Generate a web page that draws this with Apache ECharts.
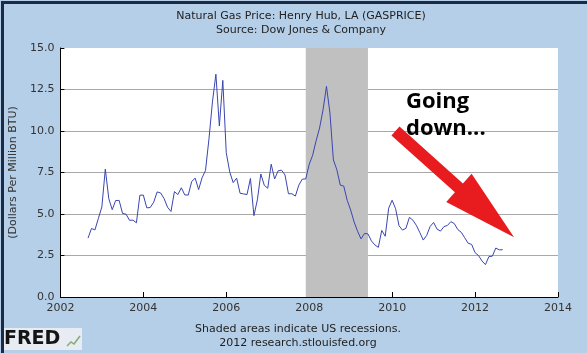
<!DOCTYPE html>
<html>
<head>
<meta charset="utf-8">
<script src="https://cdn.jsdelivr.net/npm/echarts@6/dist/echarts.min.js"></script>
<style>
 html, body { margin: 0; padding: 0; }
 #chart { width: 587px; height: 353px; }
</style>
</head>
<body>
<div id="chart"></div>
<script>
// monthly Henry Hub price, starting Sep 2002
var startYear = 2002, startMonth = 9;
var prices = [
 3.55, 4.13, 4.04, 4.74,
 5.43, 7.71, 5.93, 5.26, 5.81, 5.82, 5.03, 4.99, 4.62, 4.63, 4.47, 6.13,
 6.14, 5.37, 5.39, 5.71, 6.33, 6.27, 5.93, 5.41, 5.15, 6.35, 6.17, 6.58,
 6.15, 6.14, 6.96, 7.16, 6.47, 7.18, 7.63, 9.53, 11.75, 13.42, 10.30, 13.05,
 8.69, 7.54, 6.89, 7.16, 6.25, 6.21, 6.17, 7.14, 4.90, 5.85, 7.41, 6.73,
 6.55, 8.00, 7.11, 7.60, 7.64, 7.35, 6.22, 6.22, 6.08, 6.74, 7.10, 7.11,
 7.99, 8.54, 9.41, 10.18, 11.27, 12.69, 11.09, 8.26, 7.67, 6.74, 6.68, 5.82,
 5.24, 4.52, 3.96, 3.50, 3.83, 3.80, 3.38, 3.14, 2.99, 4.01, 3.66, 5.35,
 5.83, 5.32, 4.29, 4.03, 4.14, 4.80, 4.63, 4.32, 3.89, 3.43, 3.71, 4.25,
 4.49, 4.09, 3.97, 4.24, 4.31, 4.54, 4.42, 4.06, 3.90, 3.57, 3.24, 3.17,
 2.67, 2.50, 2.17, 1.95, 2.43, 2.46, 2.95, 2.84, 2.85
];
// recession Dec 2007 - Jun 2009
var recession = [2007 + 11 / 12, 2009 + 5 / 12];
var yearTicks = [2002, 2014, 2];
var valueTicks = [0, 15, 2.5];
// arrow annotation in data units: tail, tip
var arrowTail = [2010.08, 10.0];
var arrowTip = [2012.94, 3.6];

var points = prices.map(function (v, i) {
 return [startYear + (startMonth - 1 + i) / 12, v];
});

var labelFont = 'DejaVu Sans';
var chart = echarts.init(document.getElementById('chart'));
chart.setOption({
 backgroundColor: '#b6cfe8',
 animation: false,
 title: {
  text: 'Natural Gas Price: Henry Hub, LA (GASPRICE)\nSource: Dow Jones & Company',
  left: 296, top: 4, textAlign: 'center',
  textStyle: { fontFamily: labelFont, fontSize: 11, fontWeight: 'normal', color: '#222', lineHeight: 14 }
 },
 grid: { left: 58, right: 29, top: 48, bottom: 56, show: true, backgroundColor: '#fff', borderWidth: 0 },
 xAxis: {
  type: 'value', min: yearTicks[0], max: yearTicks[1], interval: yearTicks[2],
  axisLine: { lineStyle: { color: '#000', width: 1 } },
  axisTick: { inside: true, length: 5, lineStyle: { color: '#000' } },
  axisLabel: { margin: 6, fontFamily: labelFont, fontSize: 11, color: '#333', formatter: function (v) { return String(v); } },
  splitLine: { show: false }
 },
 yAxis: {
  type: 'value', min: valueTicks[0], max: valueTicks[1], interval: valueTicks[2],
  name: '(Dollars Per Million BTU)', nameLocation: 'middle', nameGap: 41, nameRotate: 90,
  nameTextStyle: { fontFamily: labelFont, fontSize: 11, color: '#333' },
  axisLine: { show: true, lineStyle: { color: '#000', width: 1 } },
  axisTick: { show: true, inside: true, length: 4, lineStyle: { color: '#000' } },
  axisLabel: { margin: 6, fontFamily: labelFont, fontSize: 11, color: '#333', formatter: function (v) { return v.toFixed(1); } },
  splitLine: { show: true, showMinLine: false, showMaxLine: false, lineStyle: { color: '#a8a8a8', width: 1 } }
 },
 series: [{
  type: 'line', data: points, showSymbol: false, smooth: false,
  lineStyle: { color: '#3a46b0', width: 1 },
  markArea: {
   silent: true,
   itemStyle: { color: '#c0c0c0' },
   data: [[{ xAxis: recession[0] }, { xAxis: recession[1] }]]
  },
  z: 3
 }]
});

function arrowPolygon() {
 var a = chart.convertToPixel({ gridIndex: 0 }, arrowTail);
 var b = chart.convertToPixel({ gridIndex: 0 }, arrowTip);
 var dx = b[0] - a[0], dy = b[1] - a[1];
 var len = Math.sqrt(dx * dx + dy * dy);
 var ux = dx / len, uy = dy / len, nx = -uy, ny = ux;
 var shaft = 6, head = 19, headLen = 74;
 var bx = b[0] - ux * headLen, by = b[1] - uy * headLen;
 return [
  [a[0] + nx * shaft, a[1] + ny * shaft],
  [bx + nx * shaft, by + ny * shaft],
  [bx + nx * head, by + ny * head],
  [b[0], b[1]],
  [bx - nx * head, by - ny * head],
  [bx - nx * shaft, by - ny * shaft],
  [a[0] - nx * shaft, a[1] - ny * shaft]
 ];
}

chart.setOption({
 graphic: [
  { type: 'rect', left: 0, top: 0, shape: { width: 587, height: 353 },
    style: { fill: 'none', stroke: '#1c2a44', lineWidth: 3 }, silent: true, z: 100 },
  { type: 'text', left: 406, top: 88,
    style: { text: 'Going\ndown...', font: 'bold 22px "Open Sans"', fill: '#000', lineHeight: 27 }, z: 10 },
  { type: 'polygon', shape: { points: arrowPolygon() }, style: { fill: '#e81c1f' }, z: 10 },
  { type: 'text', x: 298, y: 322, style: { text: 'Shaded areas indicate US recessions.\n2012 research.stlouisfed.org',
    font: '11px "DejaVu Sans"', fill: '#222', align: 'center', verticalAlign: 'top', lineHeight: 14 } },
  { type: 'rect', left: 2, top: 328, shape: { width: 80, height: 22 }, style: { fill: '#e6ecf1' } },
  { type: 'text', left: 4, top: 330, style: { text: 'FRED', font: 'bold 19px "DejaVu Sans"', fill: '#141414' } },
  { type: 'polyline', shape: { points: [[67, 346], [71, 342], [74, 344], [80, 336]] }, style: { stroke: '#8aa878', lineWidth: 1.5, fill: 'none' } }
 ]
});
</script>
</body>
</html>
